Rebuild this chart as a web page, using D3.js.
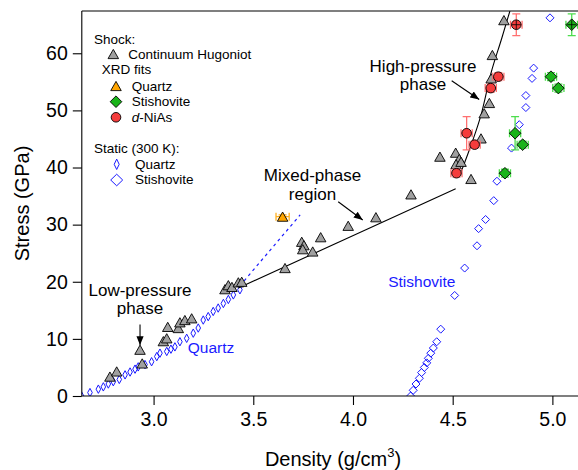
<!DOCTYPE html>
<html>
<head>
<meta charset="utf-8">
<script src="https://cdn.jsdelivr.net/npm/d3@7"></script>
<style>
  body { margin: 0; background: #fff; }
  svg { display: block; font-family: "Liberation Sans", Arial, sans-serif; }
</style>
</head>
<body>
<div id="wrapper"></div>
<script>
// shock: continuum Hugoniot
const hugDensity = [2.781, 2.815, 2.932, 2.943, 3.049, 3.066, 3.071, 3.124, 3.132, 3.157, 3.191,
    3.358, 3.375, 3.393, 3.425, 3.442, 3.659, 3.743, 3.754, 3.748, 3.798, 3.838, 3.976, 4.115,
    4.291, 4.436, 4.515, 4.533, 4.517, 4.542, 4.592, 4.642, 4.658, 4.684, 4.693, 4.699, 4.757];
const hugStress = [3.4, 4.3, 8.1, 5.7, 9.6, 10.1, 12.1, 11.9, 12.9, 13.3, 13.6,
    18.7, 19.4, 19.1, 19.9, 20.0, 22.4, 27.0, 26.4, 25.7, 25.3, 27.8, 29.8, 31.3,
    35.3, 41.9, 42.6, 41.5, 40.6, 41.0, 38.0, 45.1, 49.5, 51.3, 55.6, 59.7, 65.8];

// XRD fits (shared stress values)
const xrdStress = [65.0, 55.9, 53.9, 46.0, 44.0, 39.0];
const xrdStressErr = [1.9, 0.7, 0.7, 2.9, 0.6, 0.7];
const niasDensity = [4.819, 4.729, 4.691, 4.570, 4.610, 4.519];
const niasDensityErr = [0.029, 0.028, 0.028, 0.028, 0.028, 0.028];
const stiXrdDensity = [5.097, 4.993, 5.030, 4.813, 4.851, 4.762];
const stiXrdDensityErr = [0.029, 0.028, 0.028, 0.028, 0.028, 0.028];
const qzXrdDensity = [3.647];
const qzXrdDensityErr = [0.033];
const qzXrdStress = [31.4];
const qzXrdStressErr = [0.3];

// static (300 K)
const qzDensity = [2.639, 2.681, 2.723, 2.748, 2.773, 2.798, 2.828, 2.857, 2.882, 2.907, 2.923,
    2.957, 2.990, 3.016, 3.032, 3.066, 3.087, 3.107, 3.132, 3.166, 3.199, 3.224, 3.249, 3.274,
    3.299, 3.324, 3.350, 3.375, 3.400, 3.433];
const qzStress = [0.0, 0.6, 1.2, 1.6, 2.1, 2.5, 2.9, 3.7, 4.2, 4.7, 5.1,
    5.5, 6.0, 6.9, 7.5, 7.8, 8.2, 8.6, 9.5, 10.1, 11.0, 11.9, 13.3, 13.9,
    14.8, 15.4, 16.2, 16.9, 17.7, 18.6];
const stiDensity = [4.289, 4.302, 4.316, 4.333, 4.344, 4.358, 4.370, 4.378, 4.390, 4.403, 4.420,
    4.440, 4.510, 4.560, 4.622, 4.630, 4.665, 4.706, 4.722, 4.795, 4.834, 4.867, 4.867, 4.898,
    4.906, 4.988];
const stiStress = [0.0, 1.0, 2.1, 3.1, 4.1, 5.0, 5.8, 6.6, 7.5, 8.4, 9.5,
    11.7, 17.6, 22.4, 26.3, 29.3, 30.9, 34.2, 37.6, 43.4, 47.5, 50.5, 52.6, 55.6,
    57.4, 66.2];

// guide lines
const qzExtDensity = [3.433, 3.735];
const qzExtStress = [19.3, 31.7];
const mixedDensity = [3.425, 4.515];
const mixedStress = [18.9, 36.3];
const highDensity = [4.543, 4.595, 4.643, 4.692, 4.745, 4.787];
const highStress = [39.3, 44.2, 49.3, 56.5, 62.5, 67.4];

const xTicks = [3.0, 3.5, 4.0, 4.5, 5.0];
const yTicks = [0, 10, 20, 30, 40, 50, 60];

function drawChart() {
    const dimensions = {
        width: 578,
        height: 470,
        margin: { top: 11, right: 0, bottom: 74, left: 81.8 }
    };
    const boundedWidth = dimensions.width - dimensions.margin.left - dimensions.margin.right;
    const boundedHeight = dimensions.height - dimensions.margin.top - dimensions.margin.bottom;

    const wrapper = d3.select('#wrapper').append('svg')
        .attr('width', dimensions.width)
        .attr('height', dimensions.height);

    const defs = wrapper.append('defs');
    defs.append('marker')
        .attr('id', 'arrow')
        .attr('viewBox', '0 0 10 10')
        .attr('refX', 10).attr('refY', 5)
        .attr('markerWidth', 9).attr('markerHeight', 9)
        .attr('markerUnits', 'userSpaceOnUse')
        .attr('orient', 'auto')
        .append('path')
        .attr('d', 'M0,1 L10,5 L0,9 Z')
        .attr('fill', '#000');
    defs.append('clipPath').attr('id', 'plot-clip')
        .append('rect')
        .attr('width', boundedWidth + 2)
        .attr('height', boundedHeight);

    const bounds = wrapper.append('g')
        .attr('transform', `translate(${dimensions.margin.left}, ${dimensions.margin.top})`);

    const xScale = d3.scaleLinear()
        .domain([2.64, 2.64 + boundedWidth / 199.4])
        .range([0, boundedWidth]);
    const yScale = d3.scaleLinear()
        .domain([0, 67.4])
        .range([boundedHeight, 0]);

    const triangle = (cx, cy, s) => {
        const h = s * 0.88;
        return `M${cx},${cy - h / 2}L${cx + s / 2},${cy + h / 2}L${cx - s / 2},${cy + h / 2}Z`;
    };
    const diamond = (cx, cy, hw, hh) =>
        `M${cx},${cy - hh}L${cx + hw},${cy}L${cx},${cy + hh}L${cx - hw},${cy}Z`;

    const plot = bounds.append('g').attr('clip-path', 'url(#plot-clip)');

    // static quartz
    plot.append('g').selectAll('path')
        .data(d3.range(qzDensity.length)).enter().append('path')
        .attr('d', i => diamond(xScale(qzDensity[i]), yScale(qzStress[i]), 2.3, 4.2))
        .attr('fill', 'none')
        .attr('stroke', '#1a1aff')
        .attr('stroke-width', 1);

    // static stishovite
    plot.append('g').selectAll('path')
        .data(d3.range(stiDensity.length)).enter().append('path')
        .attr('d', i => diamond(xScale(stiDensity[i]), yScale(stiStress[i]), 4, 4))
        .attr('fill', 'none')
        .attr('stroke', '#1a1aff')
        .attr('stroke-width', 1);

    const line = d3.line()
        .x(d => xScale(d[0]))
        .y(d => yScale(d[1]));

    plot.append('path')
        .attr('d', line(d3.zip(qzExtDensity, qzExtStress)))
        .attr('fill', 'none')
        .attr('stroke', '#1a1aff')
        .attr('stroke-width', 1.2)
        .attr('stroke-dasharray', '3,3.5');

    plot.append('path')
        .attr('d', line(d3.zip(mixedDensity, mixedStress)))
        .attr('fill', 'none')
        .attr('stroke', '#000')
        .attr('stroke-width', 1.1);

    plot.append('path')
        .attr('d', line.curve(d3.curveMonotoneX)(d3.zip(highDensity, highStress)))
        .attr('fill', 'none')
        .attr('stroke', '#000')
        .attr('stroke-width', 1.1);

    // Hugoniot triangles
    plot.append('g').selectAll('path')
        .data(d3.range(hugDensity.length)).enter().append('path')
        .attr('d', i => triangle(xScale(hugDensity[i]), yScale(hugStress[i]), 10.5))
        .attr('fill', '#a0a0a0')
        .attr('stroke', '#000')
        .attr('stroke-width', 0.9);

    function errorBars(g, dens, densErr, stress, stressErr, color) {
        const cap = 4;
        dens.forEach((d, i) => {
            const cx = xScale(d), cy = yScale(stress[i]);
            const x0 = xScale(d - densErr[i]), x1 = xScale(d + densErr[i]);
            const y0 = yScale(stress[i] - stressErr[i]), y1 = yScale(stress[i] + stressErr[i]);
            const p = `M${x0},${cy}H${x1}M${x0},${cy - cap}V${cy + cap}M${x1},${cy - cap}V${cy + cap}`
                + `M${cx},${y0}V${y1}M${cx - cap},${y0}H${cx + cap}M${cx - cap},${y1}H${cx + cap}`;
            g.append('path').attr('d', p)
                .attr('fill', 'none').attr('stroke', color).attr('stroke-width', 1.3);
        });
    }

    const xrd = plot.append('g');
    errorBars(xrd, qzXrdDensity, qzXrdDensityErr, qzXrdStress, qzXrdStressErr, '#ffb020');
    errorBars(xrd, niasDensity, niasDensityErr, xrdStress, xrdStressErr, '#ff7070');
    errorBars(xrd, stiXrdDensity, stiXrdDensityErr, xrdStress, xrdStressErr, '#4ddd4d');

    xrd.selectAll('.qz').data(d3.range(qzXrdDensity.length)).enter().append('path')
        .attr('d', i => triangle(xScale(qzXrdDensity[i]), yScale(qzXrdStress[i]), 10.5))
        .attr('fill', '#ffa500').attr('stroke', '#000').attr('stroke-width', 0.9);
    xrd.selectAll('.nias').data(d3.range(niasDensity.length)).enter().append('circle')
        .attr('cx', i => xScale(niasDensity[i]))
        .attr('cy', i => yScale(xrdStress[i]))
        .attr('r', 4.8)
        .attr('fill', '#f53c3c').attr('stroke', '#000').attr('stroke-width', 0.9);
    xrd.selectAll('.sti').data(d3.range(stiXrdDensity.length)).enter().append('path')
        .attr('d', i => diamond(xScale(stiXrdDensity[i]), yScale(xrdStress[i]), 5.8, 5.8))
        .attr('fill', '#19b419').attr('stroke', '#000').attr('stroke-width', 0.9);

    // cross drawn through the top-most XRD points
    [niasDensity, stiXrdDensity].forEach(dens => {
        dens.forEach((d, i) => {
            if (xrdStress[i] < 60) return;
            const cx = xScale(d), cy = yScale(xrdStress[i]);
            xrd.append('path')
                .attr('d', `M${cx - 4.5},${cy}H${cx + 4.5}M${cx},${cy - 4.5}V${cy + 4.5}`)
                .attr('stroke', '#000').attr('stroke-width', 0.8);
        });
    });

    // axes
    const xAxis = bounds.append('g')
        .attr('transform', `translate(0, ${boundedHeight})`)
        .call(d3.axisBottom(xScale).tickValues(xTicks).tickFormat(d3.format('.1f'))
            .tickSize(9).tickPadding(7).tickSizeOuter(0));
    const yAxis = bounds.append('g')
        .call(d3.axisLeft(yScale).tickValues(yTicks).tickSize(9).tickPadding(5).tickSizeOuter(0));
    [xAxis, yAxis].forEach(a => {
        a.select('.domain').attr('stroke', '#000').attr('stroke-width', 1.1);
        a.selectAll('.tick line').attr('stroke', '#000').attr('stroke-width', 1.1);
        a.selectAll('.tick text').attr('fill', '#000')
            .style('font-size', '19.5px')
            .style('font-family', '"Liberation Sans", Arial, sans-serif');
    });
    xAxis.select('.domain').attr('d', `M0,0H${boundedWidth + 5}`);
    yAxis.select('.domain').attr('d', `M0,${boundedHeight}V0`);
    bounds.append('line')
        .attr('x1', 0).attr('x2', boundedWidth + 5)
        .attr('y1', 0).attr('y2', 0)
        .attr('stroke', '#000').attr('stroke-width', 1.1);

    const xLabel = wrapper.append('text')
        .attr('x', 333).attr('y', 466)
        .attr('text-anchor', 'middle')
        .style('font-size', '20px');
    xLabel.append('tspan').text('Density (g/cm');
    xLabel.append('tspan').attr('dy', -9).style('font-size', '13px').text('3');
    xLabel.append('tspan').attr('dy', 9).text(')');

    wrapper.append('text')
        .attr('transform', `translate(29, ${dimensions.margin.top + boundedHeight / 2}) rotate(-90)`)
        .attr('text-anchor', 'middle')
        .style('font-size', '20px')
        .text('Stress (GPa)');

    // annotations
    const ann = bounds.append('g').style('font-size', '17px').attr('fill', '#000');
    function label(lines, x, ys) {
        lines.forEach((t, i) => {
            ann.append('text')
                .attr('x', xScale(x)).attr('y', yScale(ys[i]))
                .attr('text-anchor', 'middle').text(t);
        });
    }
    function arrow(x0, y0, x1, y1) {
        ann.append('line')
            .attr('x1', xScale(x0)).attr('y1', yScale(y0))
            .attr('x2', xScale(x1)).attr('y2', yScale(y1))
            .attr('stroke', '#000').attr('stroke-width', 1.1)
            .attr('marker-end', 'url(#arrow)');
    }
    label(['Low-pressure', 'phase'], 2.932, [17.45, 14.35]);
    arrow(2.932, 12.5, 2.932, 8.9);
    label(['Mixed-phase', 'region'], 3.797, [37.6, 34.3]);
    arrow(3.926, 34.0, 4.049, 30.8);
    label(['High-pressure', 'phase'], 4.351, [56.7, 53.5]);
    arrow(4.495, 55.2, 4.633, 51.9);

    ann.append('text').attr('x', xScale(3.288)).attr('y', yScale(7.6))
        .attr('text-anchor', 'middle').attr('fill', '#1a1aff')
        .style('font-size', '15.5px').text('Quartz');
    ann.append('text').attr('x', xScale(4.345)).attr('y', yScale(19.1))
        .attr('text-anchor', 'middle').attr('fill', '#1a1aff')
        .style('font-size', '15.5px').text('Stishovite');

    // legend
    const legend = wrapper.append('g').style('font-size', '13.5px');
    const lt = (x, y, t) => legend.append('text').attr('x', x).attr('y', y).text(t);
    lt(94, 43.5, 'Shock:');
    legend.append('path').attr('d', triangle(113.3, 54, 10.5))
        .attr('fill', '#a0a0a0').attr('stroke', '#000').attr('stroke-width', 0.9);
    lt(128.3, 59.3, 'Continuum Hugoniot');
    lt(101.7, 74.3, 'XRD fits');
    legend.append('path').attr('d', triangle(116, 86, 10.5))
        .attr('fill', '#ffa500').attr('stroke', '#000').attr('stroke-width', 0.9);
    lt(131.7, 90.8, 'Quartz');
    legend.append('path').attr('d', diamond(116, 101.7, 5.8, 5.8))
        .attr('fill', '#19b419').attr('stroke', '#000').attr('stroke-width', 0.9);
    lt(131.7, 106.3, 'Stishovite');
    legend.append('circle').attr('cx', 116).attr('cy', 117.3).attr('r', 4.8)
        .attr('fill', '#f53c3c').attr('stroke', '#000').attr('stroke-width', 0.9);
    const nias = legend.append('text').attr('x', 131.7).attr('y', 121.6);
    nias.append('tspan').style('font-style', 'italic').text('d');
    nias.append('tspan').text('-NiAs');
    lt(94, 152.8, 'Static (300 K):');
    legend.append('path').attr('d', diamond(116.7, 164.3, 2.5, 5.2))
        .attr('fill', 'none').attr('stroke', '#1a1aff').attr('stroke-width', 1);
    lt(135, 168.5, 'Quartz');
    legend.append('path').attr('d', diamond(116.7, 180, 6, 5.8))
        .attr('fill', 'none').attr('stroke', '#1a1aff').attr('stroke-width', 1);
    lt(135, 184.2, 'Stishovite');
}

drawChart();
</script>
</body>
</html>
